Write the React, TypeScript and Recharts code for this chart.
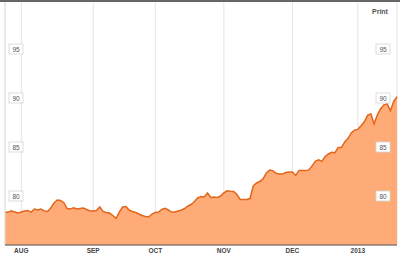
import { AreaChart, Area, XAxis, YAxis, CartesianGrid, ReferenceLine } from 'recharts';

// closing prices, one per trading day (late Jul 2012 -> mid Jan 2013)
const prices = [
  78.31, 78.36, 78.5, 78.36, 78.26, 78.36, 78.47, 78.52, 78.36, 78.67,
  78.57, 78.67, 78.47, 78.42, 78.77, 79.28, 79.59, 79.54, 79.34, 78.72,
  78.67, 78.8, 78.67, 78.72, 78.77, 78.62, 78.47, 78.47, 78.52, 78.88,
  78.42, 78.31, 78.26, 78.01, 77.72, 78.36, 78.88, 78.93, 78.57, 78.42,
  78.31, 78.16, 78.01, 77.9, 77.85, 78.16, 78.31, 78.36, 78.62, 78.74,
  78.57, 78.36, 78.36, 78.47, 78.57, 78.72, 78.98, 79.13, 79.44, 79.8,
  79.95, 79.9, 80.31, 79.85, 79.9, 79.85, 80.0, 80.31, 80.53, 80.49,
  80.46, 80.15, 79.64, 79.64, 79.64, 79.74, 81.02, 81.33, 81.48, 81.74,
  82.35, 82.64, 82.59, 82.32, 82.25, 82.25, 82.4, 82.45, 82.45, 82.1,
  82.61, 82.61, 82.59, 82.66, 83.07, 83.53, 83.7, 83.53, 84.02, 84.29,
  84.45, 84.42, 84.96, 84.96, 85.52, 85.88, 86.44, 86.72, 86.8, 87.16,
  87.57, 88.23, 88.38, 87.36, 88.28, 88.9, 89.3, 89.4, 88.7, 89.67,
  90.13,
];

// first trading day of each month (index into prices)
const monthStarts = [5, 27, 46, 67, 88, 108];
const monthLabels = ['AUG', 'SEP', 'OCT', 'NOV', 'DEC', '2013'];
const priceTicks = [80, 85, 90, 95];

const data = prices.map((p, i) => ({ i, p }));

const FONT = '"Liberation Sans", Arial, sans-serif';

// little boxed price label, drawn at both plot edges
function priceLabel(value: number) {
  return ({ viewBox }: any) => {
    const y = viewBox.y;
    const spots = [16, 383];
    return (
      <g>
        {spots.map((cx) => (
          <g key={cx}>
            <rect x={cx - 7} y={y - 5} width={14} height={10} fill="#fff" stroke="#d4d4d4" strokeWidth={0.8} />
            <text x={cx} y={y + 2.5} textAnchor="middle" fontSize={6.5} fill="#555" fontFamily={FONT}>
              {value}
            </text>
          </g>
        ))}
      </g>
    );
  };
}

function MonthTick({ x, y, payload }: any) {
  const idx = monthStarts.indexOf(payload.value);
  return (
    <text x={x} y={y + 7.5} textAnchor="middle" fontSize={6.5} fontWeight="bold" fill="#444" fontFamily={FONT}>
      {monthLabels[idx]}
    </text>
  );
}

export default function App() {
  return (
    <div style={{ position: 'absolute', left: 0, top: 0, width: 400, height: 255, background: '#fff', fontFamily: FONT }}>
      <AreaChart width={400} height={255} data={data} margin={{ top: 0, right: 3, left: 5, bottom: 0 }}>
        <CartesianGrid yAxisId="l" stroke="#e4e4e4" strokeWidth={1} />
        <XAxis
          dataKey="i"
          type="number"
          domain={[0, prices.length - 1]}
          ticks={monthStarts}
          tick={MonthTick}
          tickLine={false}
          tickSize={0}
          tickMargin={0}
          axisLine={{ stroke: '#555', strokeWidth: 1 }}
          height={10}
          interval={0}
        />
        <YAxis yAxisId="l" domain={[75, 100]} ticks={priceTicks} width={0} axisLine={false} tickLine={false} tick={false} />
        <ReferenceLine yAxisId="l" x={0} stroke="#e0e0e0" />
        <Area
          yAxisId="l"
          type="linear"
          dataKey="p"
          stroke="#e2661c"
          strokeWidth={1.5}
          fill="#ffab78"
          fillOpacity={1}
          dot={false}
          isAnimationActive={false}
        />
        {priceTicks.map((t) => (
          <ReferenceLine key={t} yAxisId="l" y={t} stroke="none" label={priceLabel(t)} />
        ))}
      </AreaChart>
      <div style={{ position: 'absolute', left: 0, top: 0, width: 400, height: 2, background: '#666' }} />
      <div style={{ position: 'absolute', left: 372, top: 8, fontSize: 7, fontWeight: 'bold', color: '#555' }}>Print</div>
    </div>
  );
}
